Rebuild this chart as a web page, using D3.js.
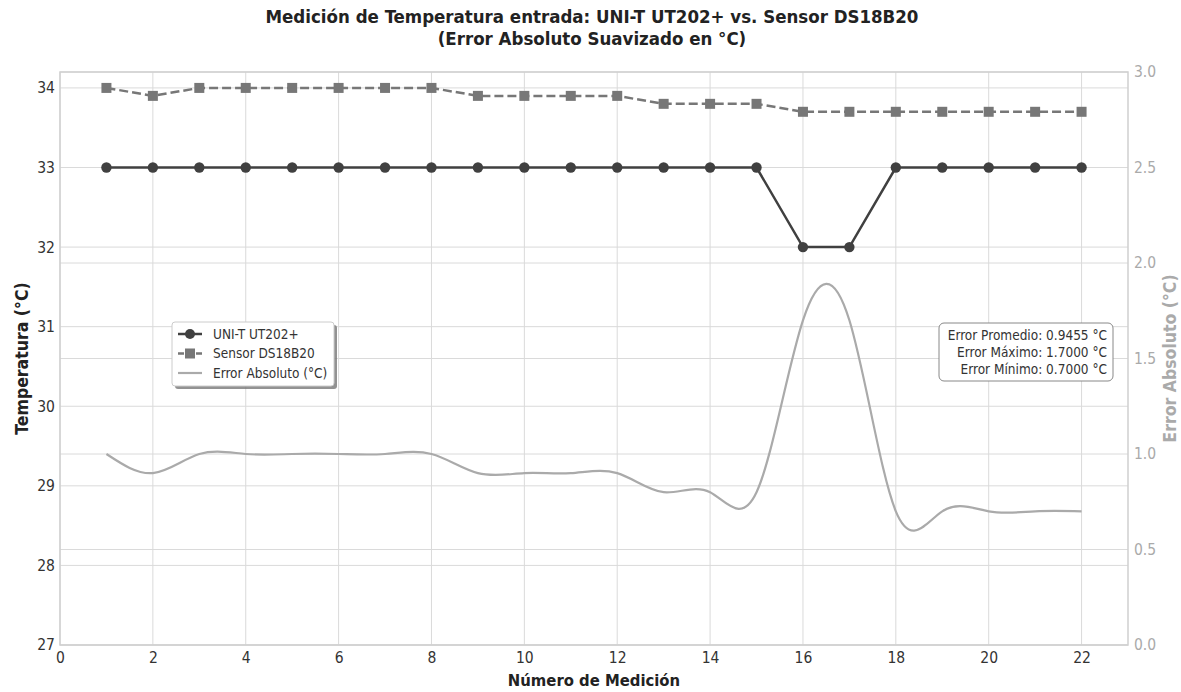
<!DOCTYPE html>
<html><head><meta charset="utf-8">
<script src="https://cdn.jsdelivr.net/npm/d3@7/dist/d3.min.js"></script>
<style>
body{margin:0;background:#fff;}
text{font-family:"DejaVu Sans Condensed","DejaVu Sans",sans-serif;}
</style></head>
<body><svg id="c" width="1181" height="692"></svg>
<script>
const mediciones = d3.range(1, 23);
const uniT = [33,33,33,33,33,33,33,33,33,33,33,33,33,33,33,32,32,33,33,33,33,33];
const sensor = [34,33.9,34,34,34,34,34,34,33.9,33.9,33.9,33.9,33.8,33.8,33.8,33.7,33.7,33.7,33.7,33.7,33.7,33.7];
const xTicks = [0,2,4,6,8,10,12,14,16,18,20,22];
const yTicks = [27,28,29,30,31,32,33,34];
const y2Ticks = [0,0.5,1.0,1.5,2.0,2.5,3.0];
const errores = sensor.map((s,i)=>+(s-uniT[i]).toFixed(4));
const statsLines = [
  "Error Promedio: " + d3.mean(errores).toFixed(4) + " °C",
  "Error Máximo: " + d3.max(errores).toFixed(4) + " °C",
  "Error Mínimo: " + d3.min(errores).toFixed(4) + " °C"
];
const legendItems = ["UNI-T UT202+","Sensor DS18B20","Error Absoluto (°C)"];

const svg = d3.select("#c");
const L=60, R=1128, T=72, B=645;
const x = d3.scaleLinear().domain([0,23]).range([L,R]);
const y = d3.scaleLinear().domain([27,34.2]).range([B,T]);
const y2 = d3.scaleLinear().domain([0,3]).range([B,T]);

const grid = svg.append("g");
grid.selectAll(".vx").data(xTicks).enter().append("line")
  .attr("x1",d=>x(d)).attr("x2",d=>x(d)).attr("y1",T).attr("y2",B)
  .attr("stroke","#dadada").attr("stroke-width",1);
grid.selectAll(".hy").data(yTicks).enter().append("line")
  .attr("x1",L).attr("x2",R).attr("y1",d=>y(d)).attr("y2",d=>y(d))
  .attr("stroke","#dadada").attr("stroke-width",1);
grid.selectAll(".hy2").data(y2Ticks).enter().append("line")
  .attr("x1",L).attr("x2",R).attr("y1",d=>y2(d)).attr("y2",d=>y2(d))
  .attr("stroke","#dadada").attr("stroke-width",1);

svg.append("rect").attr("x",L).attr("y",T).attr("width",R-L).attr("height",B-T)
  .attr("fill","none").attr("stroke","#cfcfcf").attr("stroke-width",1.5);

const xAxis = svg.append("g").attr("transform",`translate(0,${B})`)
  .call(d3.axisBottom(x).tickValues(xTicks).tickSize(0).tickPadding(7));
xAxis.select(".domain").remove();
xAxis.selectAll("text").attr("font-size",15.5).attr("fill","#333");
const yAxis = svg.append("g").attr("transform",`translate(${L},0)`)
  .call(d3.axisLeft(y).tickValues(yTicks).tickSize(0).tickPadding(5));
yAxis.select(".domain").remove();
yAxis.selectAll("text").attr("font-size",15.5).attr("fill","#333");
const y2Axis = svg.append("g").attr("transform",`translate(${R},0)`)
  .call(d3.axisRight(y2).tickValues(y2Ticks).tickSize(0).tickPadding(6).tickFormat(d3.format(".1f")));
y2Axis.select(".domain").remove();
y2Axis.selectAll("text").attr("font-size",15.5).attr("fill","#aaa");

const errLine = d3.line().x((d,i)=>x(mediciones[i])).y(d=>y2(d)).curve(d3.curveNatural);
svg.append("path").datum(errores).attr("d",errLine)
  .attr("fill","none").attr("stroke","#aaaaaa").attr("stroke-width",2.2);

const line1 = d3.line().x((d,i)=>x(mediciones[i])).y(d=>y(d));
svg.append("path").datum(sensor).attr("d",line1)
  .attr("fill","none").attr("stroke","#777").attr("stroke-width",2.5).attr("stroke-dasharray","9,4");
svg.selectAll(".sq").data(sensor).enter().append("rect")
  .attr("x",(d,i)=>x(mediciones[i])-5).attr("y",d=>y(d)-5).attr("width",10).attr("height",10)
  .attr("fill","#777");

svg.append("path").datum(uniT).attr("d",line1)
  .attr("fill","none").attr("stroke","#404040").attr("stroke-width",2.5);
svg.selectAll(".ci").data(uniT).enter().append("circle")
  .attr("cx",(d,i)=>x(mediciones[i])).attr("cy",d=>y(d)).attr("r",5.2)
  .attr("fill","#404040");

svg.append("text").attr("x",592).attr("y",23).attr("text-anchor","middle")
  .attr("font-size",18.5).attr("font-weight","bold").attr("fill","#222")
  .text("Medición de Temperatura entrada: UNI-T UT202+ vs. Sensor DS18B20");
svg.append("text").attr("x",592).attr("y",45).attr("text-anchor","middle")
  .attr("font-size",18.5).attr("font-weight","bold").attr("fill","#222")
  .text("(Error Absoluto Suavizado en °C)");

svg.append("text").attr("x",594).attr("y",686).attr("text-anchor","middle")
  .attr("font-size",16.5).attr("font-weight","bold").attr("fill","#222").text("Número de Medición");
svg.append("text").attr("transform",`translate(28,${(T+B)/2}) rotate(-90)`).attr("text-anchor","middle")
  .attr("font-size",17.5).attr("font-weight","bold").attr("fill","#222").text("Temperatura (°C)");
svg.append("text").attr("transform",`translate(1176,${(T+B)/2}) rotate(-90)`).attr("text-anchor","middle")
  .attr("font-size",17.5).attr("font-weight","bold").attr("fill","#aaa").text("Error Absoluto (°C)");

const lg = svg.append("g").attr("transform","translate(172,322)");
lg.append("rect").attr("x",3).attr("y",3).attr("width",162).attr("height",64).attr("rx",3)
  .attr("fill","#777").attr("opacity",0.8);
lg.append("rect").attr("width",162).attr("height",64).attr("rx",3)
  .attr("fill","#fff").attr("stroke","#ccc");
const lgStyles = [
  {c:"#404040", dash:null, m:"circle"},
  {c:"#777", dash:"6,3", m:"square"},
  {c:"#aaaaaa", dash:null, m:null}
];
legendItems.forEach((t,i)=>{
  const yy = 12 + i*19.5;
  const s = lgStyles[i];
  lg.append("line").attr("x1",6).attr("x2",30).attr("y1",yy).attr("y2",yy)
    .attr("stroke",s.c).attr("stroke-width",i<2?2.5:2.2).attr("stroke-dasharray",s.dash);
  if(s.m==="circle") lg.append("circle").attr("cx",18).attr("cy",yy).attr("r",5).attr("fill",s.c);
  if(s.m==="square") lg.append("rect").attr("x",13).attr("y",yy-5).attr("width",10).attr("height",10).attr("fill",s.c);
  lg.append("text").attr("x",41).attr("y",yy+4.5).attr("font-size",13.5).attr("fill","#333").text(t);
});

const sb = svg.append("g");
sb.append("rect").attr("x",939).attr("y",323).attr("width",174).attr("height",58).attr("rx",5)
  .attr("fill","#fff").attr("stroke","#888").attr("stroke-width",1);
statsLines.forEach((t,i)=>{
  sb.append("text").attr("x",1107).attr("y",340+i*17).attr("text-anchor","end")
    .attr("font-size",13.5).attr("fill","#333").text(t);
});
</script></body></html>
